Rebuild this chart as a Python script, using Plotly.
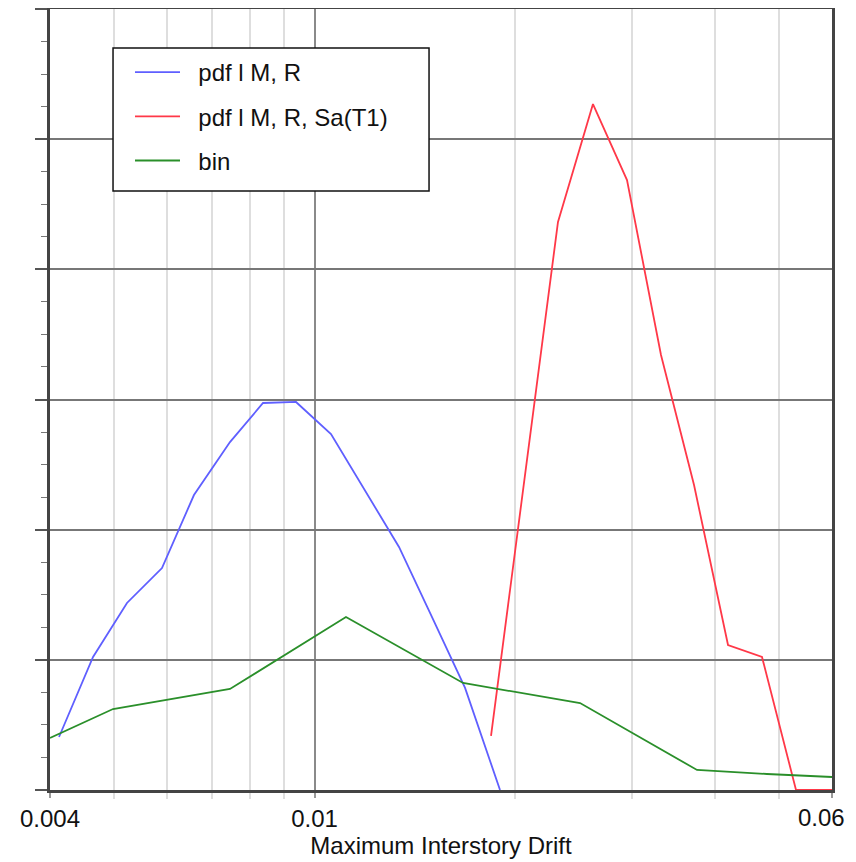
import math
import plotly.graph_objects as go

# Data
blue_x = [0.004127, 0.004643, 0.005222, 0.005895, 0.006585, 0.00746, 0.008364,
          0.009377, 0.010584, 0.011908, 0.013395, 0.015018, 0.016838, 0.019005]
blue_y = [0.407, 1.022, 1.437, 1.705, 2.266, 2.673, 2.973,
          2.981, 2.735, 2.305, 1.867, 1.329, 0.784, 0.0]

red_x = [0.018422, 0.020727, 0.02323, 0.026222, 0.029502, 0.033187,
         0.037209, 0.041857, 0.047085, 0.052972, 0.06]
red_y = [0.415, 2.435, 4.364, 5.270, 4.686, 3.342,
         2.343, 1.114, 1.022, 0.0, 0.0]

green_x = [0.004, 0.004975, 0.00746, 0.011148, 0.016722, 0.025076, 0.037597, 0.0479, 0.06]
green_y = [0.400, 0.622, 0.776, 1.329, 0.822, 0.668, 0.154, 0.123, 0.100]

names = ["pdf l M, R", "pdf l M, R, Sa(T1)", "bin"]
colors = ["#5f5fff", "#ff3848", "#2a8f2a"]

x_min, x_max = 0.004, 0.06
x_tick_vals = [0.004, 0.01, 0.06]
x_tick_text = ["0.004", "0.01", ""]   # last label drawn as annotation (kept inside the page)
x_last_label = "0.06"
x_minor_vals = [0.005, 0.006, 0.007, 0.008, 0.009, 0.02, 0.03, 0.04, 0.05]
x_title = "Maximum Interstory Drift"

FONT = "Liberation Sans, Arial, Helvetica, sans-serif"
PAD = "\u00a0\u00a0"

fig = go.Figure()
for xs, ys, nm, c in zip([blue_x, red_x, green_x], [blue_y, red_y, green_y], names, colors):
    fig.add_trace(go.Scatter(x=xs, y=ys, mode="lines", name=PAD + nm, legendgroup=nm,
                             line=dict(color=c, width=1.8)))

# legend frame
fig.add_shape(type="rect", xref="paper", yref="paper",
              x0=0.0806, x1=0.4847, y0=0.767, y1=0.950,
              fillcolor="white", line=dict(color="#111", width=1.5), layer="above")

# right-end tick label
fig.add_annotation(text=x_last_label, xref="x", yref="paper", x=math.log10(x_max), y=0,
                   xanchor="right", yanchor="middle", xshift=15, yshift=-27,
                   showarrow=False, font=dict(family=FONT, size=24, color="#111"))

# the page body adds an 8px offset; the figure is sized to fit inside the window
fig.update_layout(
    width=848, height=854,
    margin=dict(l=42, r=24, t=1, b=72),
    paper_bgcolor="white", plot_bgcolor="white",
    font=dict(family=FONT, size=24, color="#111"),
    showlegend=True,
    legend=dict(x=0.1023, y=0.9475, xanchor="left", yanchor="top",
                bgcolor="rgba(0,0,0,0)", borderwidth=0,
                font=dict(family=FONT, size=24, color="#111"),
                tracegroupgap=10, traceorder="grouped",
                itemwidth=45),
)

fig.update_xaxes(
    type="log",
    range=[math.log10(x_min), math.log10(x_max)],
    tickvals=x_tick_vals, ticktext=x_tick_text,
    ticks="outside", ticklen=5, tickcolor="#999", tickwidth=2,
    showgrid=True, gridcolor="#8a8a8a", gridwidth=2,
    minor=dict(tickvals=x_minor_vals, showgrid=True, gridcolor="#dedede", gridwidth=2,
               ticks="outside", ticklen=6, tickcolor="#dedede", tickwidth=2),
    showline=True, linecolor="#444", linewidth=2.5, mirror=True,
    title=dict(text=x_title, font=dict(family=FONT, size=24), standoff=2),
    tickfont=dict(family=FONT, size=24),
    automargin=False,
)

fig.update_yaxes(
    range=[0, 6], dtick=1, showticklabels=False,
    ticks="outside", ticklen=12, tickcolor="#555", tickwidth=1.5,
    showgrid=True, gridcolor="#777", gridwidth=1.5, zeroline=False,
    minor=dict(dtick=0.25, ticks="outside", ticklen=6, tickcolor="#777", tickwidth=1, showgrid=False),
    showline=True, linecolor="#444", linewidth=2.5, mirror=True,
    automargin=False,
)

fig.write_html("out.html")
